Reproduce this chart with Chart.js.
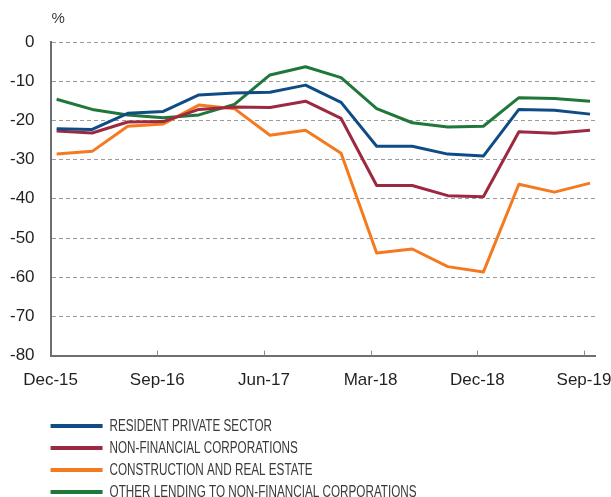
<!DOCTYPE html>
<html lang="en">
<head>
  <meta charset="UTF-8">
  <title>Lending growth by sector</title>
  <script src="https://cdn.jsdelivr.net/npm/chart.js"></script>
  <style>
    body {
      margin: 0;
      background: #ffffff;
    }
    canvas {
      display: block;
    }
  </style>
</head>
<body>
  <canvas id="lendingChart" width="611" height="497"></canvas>

  <script>
    const quarters = ['Dec-15', 'Mar-16', 'Jun-16', 'Sep-16', 'Dec-16', 'Mar-17', 'Jun-17', 'Sep-17',
                      'Dec-17', 'Mar-18', 'Jun-18', 'Sep-18', 'Dec-18', 'Mar-19', 'Jun-19', 'Sep-19'];
    const tickQuarters = [0, 3, 6, 9, 12, 15];
    const yTicks = [0, -10, -20, -30, -40, -50, -60, -70, -80];

    const residentPrivate = [-22.1, -22.3, -18.2, -17.7, -13.5, -13.0, -12.8, -11.0,
                             -15.4, -26.6, -26.6, -28.6, -29.1, -17.2, -17.4, -18.4];
    const nonFinancial = [-22.7, -23.2, -20.4, -20.3, -17.2, -16.6, -16.7, -15.1,
                          -19.5, -36.6, -36.6, -39.2, -39.5, -22.9, -23.3, -22.5];
    const construction = [-28.6, -27.9, -21.5, -20.9, -16.1, -17.0, -23.8, -22.5,
                          -28.4, -53.8, -52.8, -57.3, -58.7, -36.3, -38.3, -36.0];
    const otherLending = [-14.6, -17.2, -18.6, -19.3, -18.6, -15.9, -8.4, -6.3,
                          -9.1, -17.0, -20.6, -21.7, -21.5, -14.2, -14.4, -15.1];

    const seriesNames = ['RESIDENT PRIVATE SECTOR', 'NON-FINANCIAL CORPORATIONS',
                         'CONSTRUCTION AND REAL ESTATE', 'OTHER LENDING TO NON-FINANCIAL CORPORATIONS'];
    const seriesColors = ['#0f4c86', '#9d2941', '#f47a20', '#1f773a'];
    const seriesValues = [residentPrivate, nonFinancial, construction, otherLending];

    // data sits a little to the right of each quarter tick (end of quarter)
    const pointOffset = 0.17;

    const datasets = seriesValues.map((vals, s) => ({
      label: seriesNames[s],
      data: vals.map((v, i) => ({ x: i + pointOffset, y: v })),
      borderColor: seriesColors[s],
      borderWidth: 3,
      pointRadius: 0,
      tension: 0,
      borderJoinStyle: 'round',
      fill: false
    }));

    const extras = {
      id: 'extras',
      afterDraw(chart) {
        const ctx = chart.ctx;
        const area = chart.chartArea;
        const xs = chart.scales.x;

        // small tick marks pointing up from the x axis
        ctx.save();
        ctx.strokeStyle = '#8a8b8d';
        ctx.lineWidth = 1;
        tickQuarters.forEach(q => {
          if (q === 0) return;
          const px = Math.round(xs.getPixelForValue(q)) + 0.5;
          ctx.beginPath();
          ctx.moveTo(px, area.bottom - 5);
          ctx.lineTo(px, area.bottom);
          ctx.stroke();
        });

        // unit label
        ctx.fillStyle = '#3a3a3a';
        ctx.font = '15px "Liberation Sans", Arial, sans-serif';
        ctx.textBaseline = 'middle';
        ctx.textAlign = 'left';
        ctx.fillText('%', area.left + 1, 19);

        // legend, one series per row
        ctx.font = '16px "Liberation Sans Narrow", "Liberation Sans", sans-serif';
        const longest = ctx.measureText(seriesNames[3]).width;
        const squeeze = Math.min(1, 307 / longest);
        chart.data.datasets.forEach((ds, i) => {
          const y = 426 + i * 22;
          ctx.strokeStyle = ds.borderColor;
          ctx.lineWidth = 4;
          ctx.beginPath();
          ctx.moveTo(area.left, y);
          ctx.lineTo(area.left + 52, y);
          ctx.stroke();
          ctx.save();
          ctx.translate(area.left + 59, y);
          ctx.scale(squeeze, 1);
          ctx.fillStyle = '#3a3a3a';
          ctx.fillText(ds.label, 0, 1);
          ctx.restore();
        });
        ctx.restore();
      }
    };

    new Chart(document.getElementById('lendingChart'), {
      type: 'line',
      data: { datasets: datasets },
      options: {
        responsive: false,
        animation: false,
        layout: {
          padding: { left: 10, right: 16, top: 42, bottom: 91 }
        },
        plugins: {
          legend: { display: false },
          tooltip: { enabled: false }
        },
        scales: {
          x: {
            type: 'linear',
            min: 0,
            max: 15.31,
            afterBuildTicks(scale) {
              scale.ticks = tickQuarters.map(v => ({ value: v }));
            },
            afterFit(scale) {
              scale.paddingLeft = 0;
              scale.paddingRight = 0;
            },
            grid: { drawOnChartArea: false, drawTicks: false },
            border: { display: true, color: '#6d6e71', width: 2 },
            ticks: {
              padding: 15,
              maxRotation: 0,
              autoSkip: false,
              color: '#231f20',
              font: { family: '"Liberation Sans", Arial, sans-serif', size: 17 },
              callback: v => quarters[v] ?? ''
            }
          },
          y: {
            min: -80,
            max: 0,
            afterBuildTicks(scale) {
              scale.ticks = yTicks.map(v => ({ value: v }));
            },
            afterFit(scale) {
              // fit() reserves the tick padding on both sides of the labels
              scale.width -= scale.options.ticks.padding;
            },
            grid: {
              drawTicks: false,
              color: c => (c.tick && c.tick.value === -80) ? 'rgba(0,0,0,0)' : '#9b9b9b',
              lineWidth: 1
            },
            border: { display: true, color: '#6d6e71', width: 2, dash: [4, 3] },
            ticks: {
              padding: 16,
              color: '#231f20',
              font: { family: '"Liberation Sans", Arial, sans-serif', size: 17 }
            }
          }
        }
      },
      plugins: [extras]
    });
  </script>
</body>
</html>
